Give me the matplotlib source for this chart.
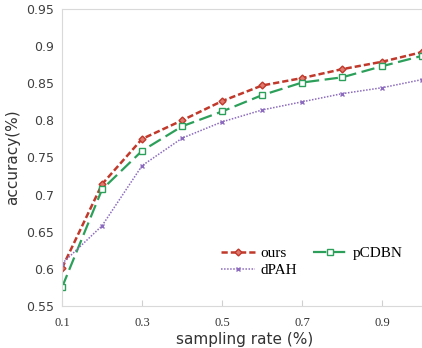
import numpy as np
import matplotlib.pyplot as plt

rates = [0.1, 0.2, 0.3, 0.4, 0.5, 0.6, 0.7, 0.8, 0.9, 1.0]
ours = [0.601, 0.714, 0.775, 0.800, 0.826, 0.847, 0.857, 0.869, 0.879, 0.892]
pcdbn = [0.575, 0.707, 0.759, 0.792, 0.812, 0.834, 0.851, 0.858, 0.873, 0.887]
dpah = [0.607, 0.658, 0.739, 0.776, 0.798, 0.814, 0.825, 0.836, 0.844, 0.855]
xticks = [0.1, 0.3, 0.5, 0.7, 0.9]
yticks = [0.55, 0.6, 0.65, 0.7, 0.75, 0.8, 0.85, 0.9, 0.95]

fig = plt.figure(figsize=(4.22, 3.48), dpi=100)
ax = fig.add_axes([0.147, 0.121, 0.863, 0.853])

l_ours, = ax.plot(rates, ours, color='#c0392b', linestyle=(0, (2.5, 1.2)), linewidth=1.8,
                  marker='D', markersize=3.5, markerfacecolor='#e07a70', markeredgecolor='#c0392b',
                  label='ours')
l_pc, = ax.plot(rates, pcdbn, color='#2ca05a', linestyle=(0, (6, 2.5)), linewidth=1.6,
                marker='s', markersize=4.5, markerfacecolor='white', markeredgecolor='#2ca05a',
                label='pCDBN')
l_dp, = ax.plot(rates, dpah, color='#8c6bbf', linestyle=(0, (1, 1)), linewidth=1.1,
                marker='x', markersize=3.5, markeredgecolor='#8c6bbf',
                label='dPAH')

ax.set_xlim(0.1, 1.01)
ax.set_ylim(0.55, 0.95)
ax.set_xticks(xticks)
ax.set_xticklabels([str(v) for v in xticks], family='Liberation Serif', fontsize=9, color='#333333')
ax.set_yticks(yticks)
ax.set_yticklabels([f'{v:g}' for v in yticks], fontsize=9, color='#404040')

for s in ax.spines.values():
    s.set_color('#d9d9d9')
ax.spines['right'].set_visible(False)
ax.tick_params(axis='x', direction='in', length=4, color='#d0d0d0', pad=8)
ax.tick_params(axis='y', length=0, pad=6)

ax.set_ylabel('accuracy(%)', fontsize=11, color='#333333', labelpad=4)
ax.set_xlabel('sampling rate (%)', fontsize=11, color='#333333', labelpad=2)

ax.legend([l_ours, l_dp, l_pc], ['ours', 'dPAH', 'pCDBN'],
          loc='upper left', bbox_to_anchor=(0.42, 0.22), ncol=2, frameon=False,
          prop={'family': 'Liberation Serif', 'size': 11}, handlelength=2.2,
          handletextpad=0.4, columnspacing=1.0, labelspacing=0.2, borderaxespad=0)

fig.savefig('out.png', dpi=100)
